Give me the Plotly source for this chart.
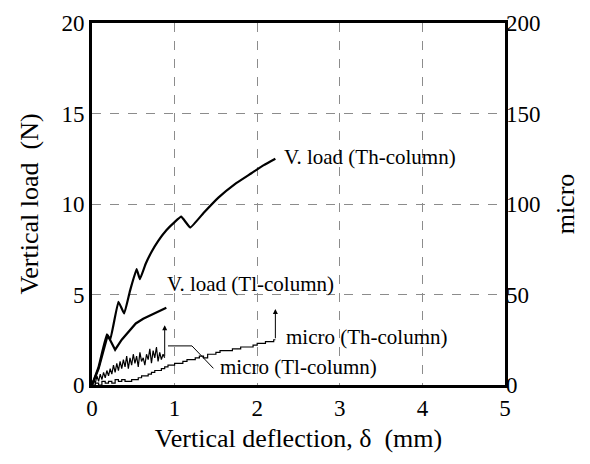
import plotly.graph_objects as go

# Vertical load, Th-column (left axis, N)
th_x = [0, 0.08, 0.18, 0.22, 0.32, 0.39, 0.46, 0.54, 0.58, 0.65, 0.72, 0.80, 0.90, 1.00, 1.08, 1.19, 1.35, 1.53, 1.73, 1.93, 2.08, 2.22]
th_y = [0, 1.0, 2.8, 2.5, 4.6, 3.95, 5.2, 6.4, 5.85, 6.7, 7.35, 7.95, 8.55, 9.0, 9.3, 8.7, 9.5, 10.35, 11.1, 11.7, 12.15, 12.5]

# Vertical load, Tl-column (left axis, N)
tl_x = [0, 0.08, 0.19, 0.28, 0.36, 0.45, 0.53, 0.62, 0.75, 0.90]
tl_y = [0, 0.9, 2.75, 1.95, 2.5, 3.0, 3.4, 3.66, 3.95, 4.27]

# micro, Th-column (right axis)
mth_x = [0, 0.04, 0.08, 0.12, 0.16, 0.20, 0.24, 0.28, 0.32, 0.36, 0.40, 0.44, 0.48, 0.52, 0.56, 0.60, 0.64, 0.68,
         0.72, 0.76, 0.80, 0.84, 0.88, 0.92, 0.96, 1.00, 1.05, 1.10, 1.15, 1.20, 1.25, 1.30, 1.35, 1.40, 1.45,
         1.50, 1.55, 1.60, 1.65, 1.70, 1.75, 1.80, 1.85, 1.90, 1.95, 2.00, 2.05, 2.10, 2.15, 2.20, 2.22]
mth_y = [0, 1, 0, 2, 1, 2, 1, 3, 2, 3, 2, 2, 3, 3, 4, 5, 5, 6,
         7, 8, 8, 9, 10, 11, 11, 12, 12, 13, 14, 14, 15, 16, 15, 17, 17,
         18, 19, 19, 19, 20, 20, 21, 21, 21, 22, 23, 23, 24, 24, 25, 25]

# micro, Tl-column (right axis)
mtl_x = [0, 0.02, 0.04, 0.06, 0.08, 0.10, 0.12, 0.14, 0.16, 0.18, 0.20, 0.22, 0.24, 0.26, 0.28, 0.30, 0.32,
         0.34, 0.36, 0.38, 0.40, 0.42, 0.44, 0.46, 0.48, 0.50, 0.52, 0.54, 0.56, 0.58, 0.60, 0.62, 0.64,
         0.66, 0.68, 0.70, 0.72, 0.74, 0.76, 0.78, 0.80, 0.82, 0.84, 0.86, 0.88]
mtl_y = [0, 3, 1, 5, 2, 6, 3, 7, 4, 8, 5, 9, 6, 11, 7, 12, 8, 13, 9, 14, 10, 16, 9, 15, 11, 17, 12, 16,
         10, 18, 13, 15, 11, 17, 14, 20, 12, 19, 15, 21, 13, 18, 14, 17, 15]

# Arrows (micro axis): x, tail, head
arrow_x = [0.88, 2.22]
arrow_tail = [15, 25]
arrow_head = [33, 42]

# Leader line for "micro (Tl-column)" label (left axis units)
lead_x = [0.92, 1.21, 1.47]
lead_y = [2.16, 2.16, 0.92]

FONT = "Liberation Serif"
LW = 2.2

fig = go.Figure()
fig.add_trace(go.Scatter(x=th_x, y=th_y, mode="lines", line=dict(color="black", width=LW, shape="spline", smoothing=0.3)))
fig.add_trace(go.Scatter(x=tl_x, y=tl_y, mode="lines", line=dict(color="black", width=LW)))
fig.add_trace(go.Scatter(x=mth_x, y=mth_y, mode="lines", line=dict(color="black", width=1.2, shape="hv"), yaxis="y2"))
fig.add_trace(go.Scatter(x=mtl_x, y=mtl_y, mode="lines", line=dict(color="black", width=1.2), yaxis="y2"))
fig.add_trace(go.Scatter(x=lead_x, y=lead_y, mode="lines", line=dict(color="black", width=1)))

for ax_, t, h in zip(arrow_x, arrow_tail, arrow_head):
    fig.add_annotation(x=ax_, y=h, ax=ax_, ay=t, xref="x", yref="y2", axref="x", ayref="y2",
                       showarrow=True, arrowhead=2, arrowsize=1, arrowwidth=1, arrowcolor="black", text="")

labels = [("V. load (Th-column)", 2.3, 12.6), ("V. load (Tl-column)", 0.88, 5.6),
          ("micro (Th-column)", 2.33, 2.65), ("micro (Tl-column)", 1.52, 1.0)]
for txt, lx, ly in labels:
    fig.add_annotation(x=lx, y=ly, xref="x", yref="y", text=txt, showarrow=False,
                       xanchor="left", yanchor="middle", font=dict(family=FONT, size=21, color="black"))

fig.update_layout(
    width=590, height=464,
    margin=dict(l=92, r=85, t=23, b=79),
    paper_bgcolor="white", plot_bgcolor="white",
    showlegend=False,
    font=dict(family=FONT, color="black", size=23),
    xaxis=dict(range=[0, 5], tickvals=[0, 1, 2, 3, 4, 5], showgrid=True, gridcolor="#8c8c8c",
               griddash="dash", gridwidth=1, showline=True, linecolor="black", linewidth=3, mirror=True,
               zeroline=False, ticks="", tickfont=dict(size=23),
               title=dict(text="Vertical deflection, δ  (mm)", font=dict(size=26), standoff=10)),
    yaxis=dict(range=[0, 20], tickvals=[0, 5, 10, 15, 20], showgrid=True, gridcolor="#8c8c8c",
               griddash="dash", gridwidth=1, showline=True, linecolor="black", linewidth=3, mirror=True,
               zeroline=False, ticks="", tickfont=dict(size=23),
               title=dict(text="Vertical load  (N)", font=dict(size=26), standoff=16)),
    yaxis2=dict(range=[0, 200], tickvals=[0, 50, 100, 150, 200], overlaying="y", side="right",
                showgrid=False, zeroline=False, ticks="", tickfont=dict(size=23),
                title=dict(text="micro", font=dict(size=26), standoff=16)),
)

fig.write_html("out.html")
